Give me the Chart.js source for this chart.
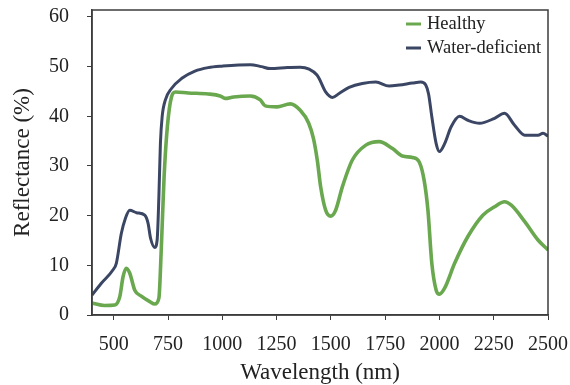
<!DOCTYPE html>
<html lang="en">
<head>
<meta charset="UTF-8">
<title>Reflectance</title>
<script src="https://cdn.jsdelivr.net/npm/chart.js"></script>
<style>
  html, body { margin: 0; padding: 0; background: #fff; }
  #wrap { width: 570px; height: 385px; }
</style>
</head>
<body>
<div id="wrap"><canvas id="myChart"></canvas></div>
<script>
// spectra: wavelength (nm) and reflectance (%)
var healthyNm = [400, 458, 505, 528, 543, 558, 574, 597, 627, 666, 689, 708, 720, 732, 747, 766, 784, 843, 935, 990, 1013, 1052, 1129, 1175, 1198, 1252, 1313, 1359, 1398, 1420, 1438, 1453, 1476, 1499, 1522, 1553, 1599, 1661, 1722, 1784, 1830, 1876, 1907, 1930, 1947, 1965, 1985, 2000, 2024, 2070, 2131, 2200, 2254, 2300, 2331, 2393, 2454, 2500];
var healthyPct = [2.4, 1.9, 2.0, 3.7, 7.7, 9.4, 8.4, 5.0, 3.8, 2.7, 2.2, 3.4, 14.4, 27.8, 37.9, 43.9, 44.9, 44.7, 44.5, 44.1, 43.6, 43.9, 44.1, 43.3, 42.1, 41.9, 42.5, 41.2, 38.6, 35.5, 31.0, 25.8, 21.1, 19.9, 21.1, 25.8, 31.2, 34.2, 34.9, 33.5, 32.0, 31.7, 30.8, 27.0, 21.1, 10.4, 5.0, 4.2, 5.4, 10.4, 15.8, 20.1, 21.8, 22.8, 22.1, 18.8, 15.1, 13.1];

var deficitNm = [400, 443, 497, 512, 535, 554, 574, 605, 643, 658, 670, 689, 700, 708, 715, 723, 738, 766, 812, 874, 935, 1000, 1129, 1180, 1221, 1300, 1359, 1400, 1436, 1446, 1476, 1507, 1538, 1584, 1645, 1707, 1768, 1815, 1876, 1914, 1937, 1950, 1965, 1985, 2000, 2024, 2054, 2093, 2131, 2185, 2254, 2300, 2346, 2393, 2454, 2477, 2500];
var deficitPct = [4.0, 6.4, 9.1, 10.4, 16.4, 19.5, 21.1, 20.6, 20.1, 18.5, 15.4, 13.6, 15.1, 23.8, 34.5, 39.9, 43.3, 45.6, 47.6, 49.1, 49.8, 50.1, 50.4, 50.0, 49.6, 49.8, 49.9, 49.5, 48.3, 47.6, 44.9, 43.8, 44.6, 45.8, 46.6, 46.9, 46.1, 46.3, 46.7, 46.9, 46.3, 44.5, 39.9, 34.5, 32.9, 34.5, 37.9, 40.0, 39.2, 38.6, 39.6, 40.6, 38.2, 36.2, 36.2, 36.6, 36.0];

var seriesNames = ["Healthy", "Water-deficient"];
var xTicks = [500, 750, 1000, 1250, 1500, 1750, 2000, 2250, 2500];
var yTicks = [0, 10, 20, 30, 40, 50, 60];

var verde = "#6aa84f";
var azul = "#3a4663";
var eixo = "#3c3c3c";
var fonte = "'Liberation Serif', 'Times New Roman', serif";

function pares(xs, ys) {
    var out = [];
    for (var i = 0; i < xs.length; i++) {
        out.push({ x: xs[i], y: ys[i] });
    }
    return out;
}

// frame on all four sides + legend inside the plot
const moldura = {
    id: "moldura",
    afterDraw(chart) {
        const ctx = chart.ctx;
        const a = chart.chartArea;
        ctx.save();
        ctx.strokeStyle = eixo;
        ctx.lineWidth = 1.5;
        ctx.strokeRect(a.left, a.top, a.right - a.left, a.bottom - a.top);

        ctx.font = "18.5px " + fonte;
        ctx.textBaseline = "middle";
        ctx.textAlign = "left";
        const cores = [verde, azul];
        for (let i = 0; i < seriesNames.length; i++) {
            const y = a.top + 14 + i * 24;
            const x = a.right - 142;
            ctx.strokeStyle = cores[i];
            ctx.lineWidth = 3;
            ctx.beginPath();
            ctx.moveTo(x, y);
            ctx.lineTo(x + 15, y);
            ctx.stroke();
            ctx.fillStyle = "#222";
            ctx.fillText(seriesNames[i], x + 21, y);
        }
        ctx.restore();
    }
};

const dados = {
    datasets: [
        {
            label: seriesNames[0],
            data: pares(healthyNm, healthyPct),
            borderColor: verde,
            borderWidth: 3.6,
            pointRadius: 0,
            cubicInterpolationMode: "monotone"
        },
        {
            label: seriesNames[1],
            data: pares(deficitNm, deficitPct),
            borderColor: azul,
            borderWidth: 3,
            pointRadius: 0,
            cubicInterpolationMode: "monotone"
        }
    ]
};

const config = {
    type: "line",
    data: dados,
    plugins: [moldura],
    options: {
        responsive: true,
        maintainAspectRatio: false,
        animation: false,
        layout: { padding: { top: 10, right: 22, left: 0, bottom: 0 } },
        plugins: {
            legend: { display: false },
            tooltip: { enabled: false }
        },
        scales: {
            x: {
                type: "linear",
                min: 400,
                max: 2500,
                afterBuildTicks: function (scale) {
                    scale.ticks = xTicks.map(function (v) { return { value: v }; });
                },
                afterFit: function (scale) {
                    scale.height = 70;
                    scale.paddingLeft = 0;
                    scale.paddingRight = 0;
                },
                grid: { drawOnChartArea: false, tickLength: 5, color: eixo },
                border: { color: eixo, width: 1.5 },
                ticks: {
                    color: "#222",
                    font: { family: fonte, size: 20 },
                    padding: 13,
                    maxRotation: 0,
                    callback: function (v) { return String(v); }
                },
                title: {
                    display: true,
                    text: "Wavelength (nm)",
                    color: "#222",
                    font: { family: fonte, size: 23 },
                    padding: { top: 0, bottom: -2 }
                }
            },
            y: {
                min: 0,
                max: 61.4,
                afterBuildTicks: function (scale) {
                    scale.ticks = yTicks.map(function (v) { return { value: v }; });
                },
                afterFit: function (scale) {
                    scale.width = 92;
                    scale.paddingTop = 0;
                    scale.paddingBottom = 0;
                },
                grid: { drawOnChartArea: false, tickLength: 5, color: eixo },
                border: { color: eixo, width: 1.5 },
                ticks: {
                    color: "#222",
                    font: { family: fonte, size: 20 },
                    padding: 18,
                    callback: function (v) { return String(v); }
                },
                title: {
                    display: true,
                    text: "Reflectance (%)",
                    color: "#222",
                    font: { family: fonte, size: 23 },
                    padding: { bottom: 0, top: 9 }
                }
            }
        }
    }
};

const myChart = new Chart(document.getElementById("myChart"), config);
</script>
</body>
</html>
